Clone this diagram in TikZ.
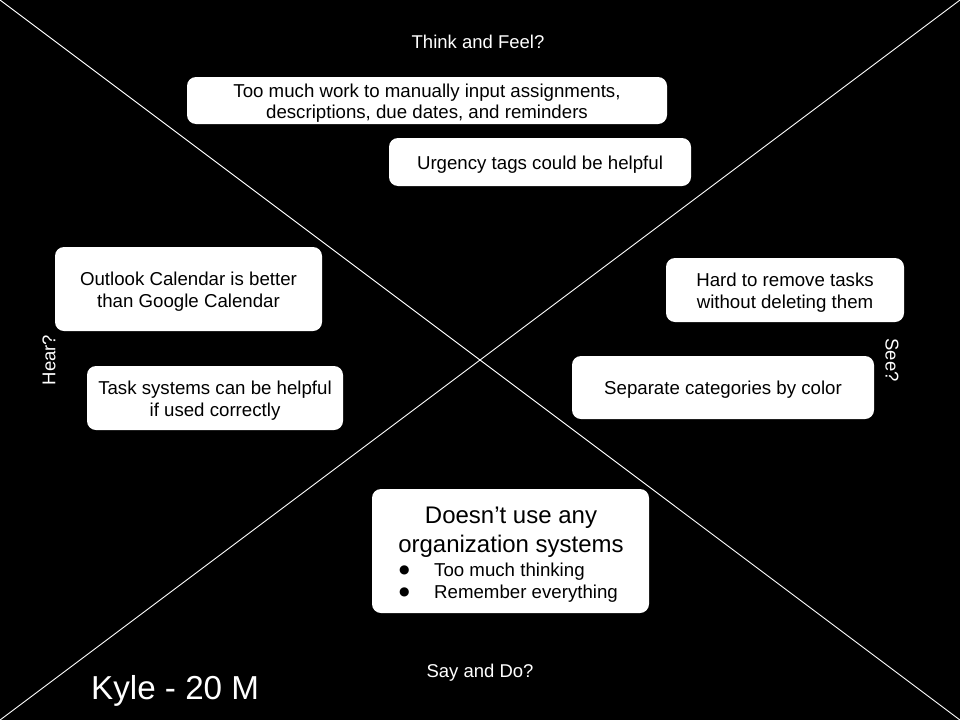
\documentclass[tikz,border=0pt]{standalone}
\usepackage{fontspec}
\setmainfont{Liberation Sans}
\newfontfamily\symfont{DejaVu Sans}
\usepackage{tikz}

\tikzset{
  card/.style={fill=white, rounded corners=9pt, inner sep=0pt},
  cardtext/.style={align=center, inner sep=0pt, text=black, font=\fontsize{18.67}{21.5}\selectfont},
  quadrant/.style={text=white, font=\fontsize{18.5}{21}\selectfont},
  bodytext/.style={text=black, inner sep=0pt, anchor=west, font=\fontsize{18.67}{22}\selectfont}
}

\begin{document}
\begin{tikzpicture}[x=1pt, y=-1pt]
\fill[black] (0, 0) rectangle (960, 720);
\useasboundingbox (0, 0) rectangle (960, 720);
\coordinate (tl) at (0, 0);
\coordinate (br) at (960, 720);
\coordinate (tr) at (960, 0);
\coordinate (bl) at (0, 720);
\draw[white, line width=0.9pt] (tl) -- (br);
\draw[white, line width=0.9pt] (tr) -- (bl);

\node[card, minimum width=480, minimum height=47] (work) at (427, 100.5) {};
\node[card, minimum width=302, minimum height=48] (urgency) at (540, 162) {};
\node[card, minimum width=267, minimum height=84] (outlook) at (188.5, 289) {};
\node[card, minimum width=256, minimum height=64] (tasksys) at (215, 398) {};
\node[card, minimum width=238, minimum height=64] (remove) at (785, 290) {};
\node[card, minimum width=302, minimum height=63] (colour) at (723, 387.5) {};
\node[card, minimum width=277, minimum height=124] (nosys) at (510.5, 551) {};

\node[cardtext] (worktext) at ([yshift=-2.5pt]work) {Too much work to manually input assignments,\\descriptions, due dates, and reminders};
\node[cardtext] (urgencytext) at ([yshift=-2.5pt]urgency) {Urgency tags could be helpful};
\node[cardtext] (outlooktext) at ([yshift=-2.5pt]outlook) {Outlook Calendar is better\\than Google Calendar};
\node[cardtext] (tasksystext) at ([yshift=-2.5pt]tasksys) {Task systems can be helpful\\if used correctly};
\node[cardtext] (removetext) at ([yshift=-2.5pt]remove) {Hard to remove tasks\\without deleting them};
\node[cardtext] (colourtext) at ([yshift=-2.5pt]colour) {Separate categories by color};
\node[cardtext, font=\fontsize{24}{29}\selectfont] (nosystitle) at (511, 532.5) {Doesn't use any\\organization systems};
\node[bodytext, font=\symfont\fontsize{12}{14}\selectfont] (bulletA) at (399, 570) {●};
\node[bodytext, font=\symfont\fontsize{12}{14}\selectfont] (bulletB) at (399, 592) {●};
\node[bodytext] (thinking) at (434, 572) {Too much thinking};
\node[bodytext] (remember) at (434, 594) {Remember everything};

\node[quadrant] (think) at (478, 42) {Think and Feel?};
\node[quadrant] (say) at (480, 673) {Say and Do?};
\node[quadrant, rotate=90] (hear) at (49, 360) {Hear?};
\node[quadrant, rotate=-90] (see) at (892, 360) {See?};
\node[text=white, anchor=west, inner sep=0pt, font=\fontsize{33.2}{38}\selectfont] (kyle) at (91, 691) {Kyle - 20 M};
\end{tikzpicture}
\end{document}
